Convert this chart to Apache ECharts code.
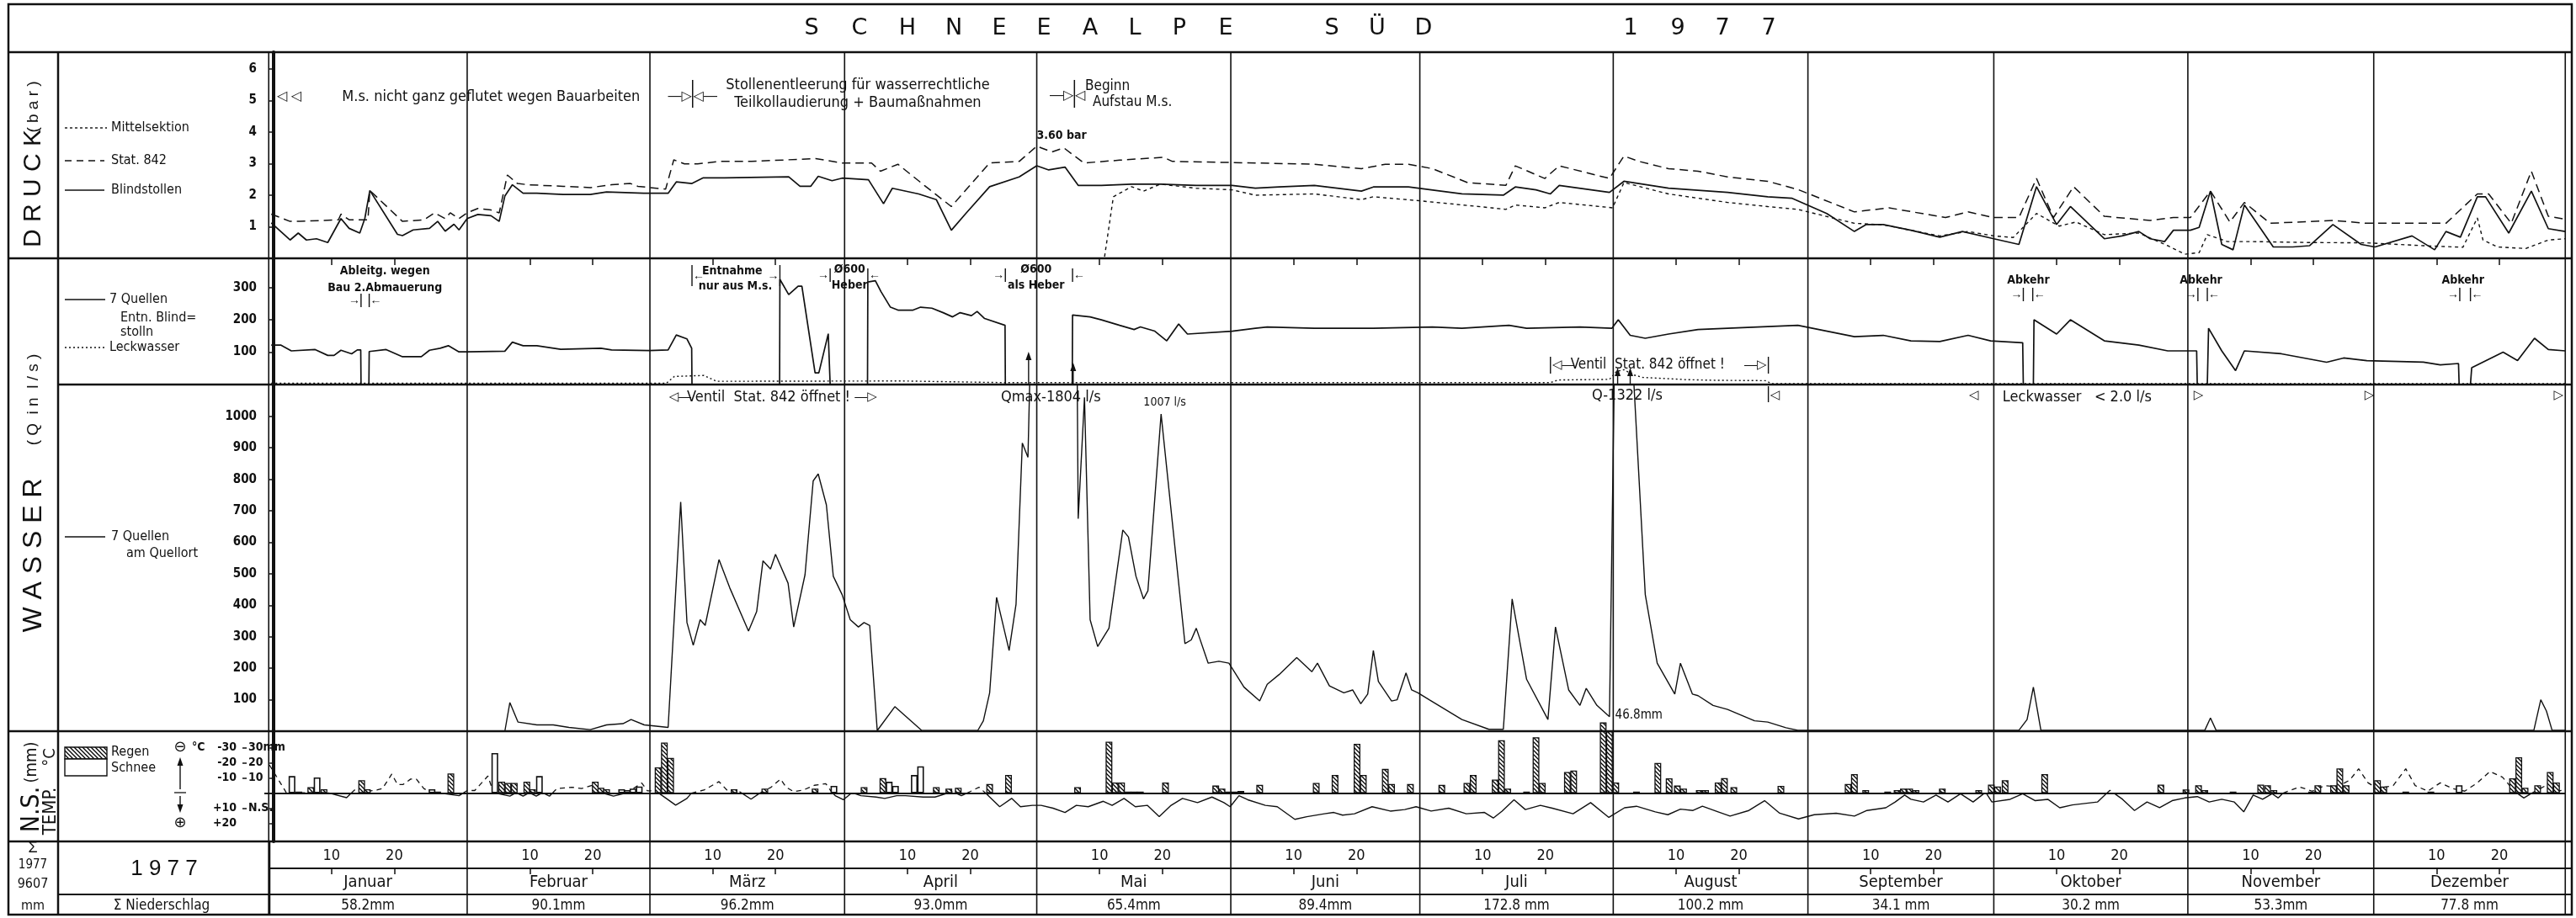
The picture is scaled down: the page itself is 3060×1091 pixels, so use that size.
<!DOCTYPE html>
<html>
<head>
<meta charset="utf-8">
<title>Schneealpe Süd 1977</title>
<script src="https://cdn.jsdelivr.net/npm/echarts@6/dist/echarts.min.js"></script>
<style>
  html, body { margin: 0; padding: 0; background: #fff; }
  #chart { width: 3060px; height: 1091px; }
</style>
</head>
<body>
<div id="chart"></div>
<script>
// === Daten (x = Tag im Jahr, 0 = Beginn 1. Jänner) ===

const monthNames = ['Januar', 'Februar', 'März', 'April', 'Mai', 'Juni', 'Juli', 'August', 'September', 'Oktober', 'November', 'Dezember'];
const monthTotals = ['58.2mm', '90.1mm', '96.2mm', '93.0mm', '65.4mm', '89.4mm', '172.8 mm', '100.2 mm', '34.1 mm', '30.2 mm', '53.3mm', '77.8 mm'];
// Monatsgrenzen so wie im Blatt gezeichnet
const monthEdges = [-0.8, 30.8, 59.9, 90.9, 121.5, 152.4, 182.5, 213.3, 244.3, 273.9, 304.8, 334.4, 364.9];

const druckTicks = [1, 2, 3, 4, 5, 6];
const quellenTicks = [100, 200, 300];
const wasserTicks = [100, 200, 300, 400, 500, 600, 700, 800, 900, 1000];
const nsTickValues = [30, 20, 10, -10, -20];
const tempTickLabels = ['-30', '-20', '-10', '+10', '+20'];
const mmTickValues = [30, 20, 10, -10];
const mmTickLabels = ['30mm', '20', '10', 'N.S.'];

// Druck (bar)
const druckBlind = [
  [-0.4,1.12],[2.6,0.58],[3.9,0.8],[5.2,0.58],[6.8,0.62],[8.6,0.5],[10.7,1.26],[12,0.95],[13.7,0.8],[14.5,1.26],[15.3,2.15],
  [19.7,0.76],[20.5,0.72],[22.2,0.9],[24.8,0.95],[26.1,1.17],[27.3,0.86],[28.7,1.08],[29.5,0.9],[30.8,1.26],[32.5,1.39],
  [34.6,1.35],[35.9,1.17],[36.8,1.97],[38,2.33],[39.7,2.06],[41.9,2.06],[46.1,2.02],[50.4,2.02],[53,2.1],[58.9,2.06],
  [62.8,2.06],[64.1,2.42],[66.6,2.37],[68.4,2.55],[71.8,2.55],[82,2.58],[83.8,2.28],[85.5,2.28],[86.7,2.6],[88.9,2.46],
  [90.5,2.54],[94.7,2.49],[97.1,1.73],[98.5,2.22],[102.7,2.04],[105.5,1.86],[107.9,0.89],[110.2,1.42],[114,2.27],
  [118.7,2.58],[121.5,2.93],[123.4,2.8],[126,2.89],[128.1,2.31],[131.8,2.31],[136.6,2.35],[141.2,2.35],[146.9,2.31],
  [152.6,2.31],[156.3,2.22],[160.1,2.26],[165.7,2.31],[173.2,2.13],[175.1,2.26],[180.7,2.26],[189.2,2.04],[195.8,2.0],
  [197.7,2.26],[201,2.17],[203.3,2.04],[204.7,2.31],[212.7,2.09],[215,2.44],[222.1,2.22],[231.5,2.09],[237.9,1.95],
  [241.8,1.9],[247.3,1.42],[251.7,0.85],[253.6,1.07],[256.3,1.07],[260.7,0.89],[265.3,0.67],[268.9,0.85],[273.9,0.62],
  [277.9,0.44],[280.7,2.27],[283.9,1.07],[286.1,1.64],[291.5,0.62],[294.3,0.71],[297,0.85],[298.8,0.62],[301.1,0.53],
  [302.5,0.89],[305.2,0.89],[306.6,0.98],[308.4,2.13],[310.2,0.44],[312,0.27],[313.8,1.69],[318.4,0.36],[321.5,0.36],
  [324.2,0.4],[327.9,1.07],[332.4,0.44],[334.6,0.36],[340.5,0.71],[344.1,0.27],[345.9,0.85],[348.2,0.67],[350.9,1.95],
  [352.2,1.95],[355.9,0.8],[359.5,2.13],[362.2,0.94],[364.9,0.85]
];
const druckStat = [
  [-0.4,1.4],[2.6,1.17],[4.2,1.17],[10.3,1.22],[10.7,1.4],[12,1.22],[15,1.22],[15.3,2.15],[20.5,1.17],[23.9,1.22],
  [25.6,1.44],[27.3,1.26],[28.1,1.44],[29.5,1.26],[30.8,1.44],[32.5,1.58],[34.6,1.53],[35.9,1.44],[37.2,2.64],[38.8,2.37],
  [40.5,2.33],[46.1,2.28],[50.4,2.24],[53.8,2.33],[56.8,2.37],[58,2.28],[62.4,2.19],[63.7,3.12],[65.4,2.99],[67.5,2.99],
  [70.9,3.07],[76.1,3.07],[86.3,3.16],[90.5,3.02],[95.2,3.02],[96.6,2.76],[99.4,2.98],[103.6,2.31],[107.9,1.64],[114,3.02],
  [118.7,3.07],[121.5,3.55],[123.9,3.37],[125.8,3.5],[129,3.02],[134.7,3.11],[141.7,3.2],[143.1,3.07],[156.3,3.02],
  [165.7,2.98],[173.2,2.84],[177,2.98],[180.7,2.98],[184.5,2.84],[190.1,2.4],[196.2,2.31],[197.7,2.93],[202.4,2.53],
  [204.7,2.93],[212.7,2.53],[215,3.24],[217.4,3.07],[222.1,2.84],[226.8,2.76],[231.5,2.58],[237.9,2.44],[242.7,2.18],
  [251.7,1.47],[257.2,1.6],[266.2,1.29],[269.8,1.47],[273.9,1.29],[277.9,1.29],[280.7,2.53],[283.4,1.29],[286.6,2.27],
  [291.5,1.33],[298.8,1.2],[302.5,1.29],[305.2,1.29],[308.4,2.13],[311.5,1.15],[313.8,1.77],[317.9,1.11],[327.9,1.2],
  [333.3,1.11],[345.9,1.11],[350.9,2.04],[352.7,2.04],[356.3,1.11],[359.5,2.76],[362.2,1.33],[364.9,1.24]
];
const druckMittel = [
  [132.3,0.05],[133.7,1.95],[136.6,2.27],[138.5,2.13],[141.2,2.35],[146.9,2.22],[152.6,2.17],[156.3,2.0],[165.7,2.04],
  [173.2,1.86],[175.1,1.95],[182.6,1.82],[193.9,1.6],[196.2,1.55],[197.7,1.69],[202.4,1.6],[204.7,1.77],[213.2,1.6],
  [215,2.4],[222.1,2.04],[231.5,1.77],[237.9,1.64],[242.7,1.55],[251.7,1.11],[256.3,1.06],[265.3,0.71],[269.8,0.85],
  [273.9,0.71],[277,0.66],[280.7,1.42],[284.3,1.02],[287,1.15],[291.5,0.75],[297,0.8],[301.6,0.4],[304.3,0.13],
  [306.6,0.18],[307.9,0.75],[311.1,0.53],[315.1,0.53],[324.2,0.5],[333.3,0.49],[342.3,0.4],[348.6,0.35],[350.9,1.28],
  [351.8,0.58],[354.1,0.36],[358.6,0.31],[362.2,0.58],[364.9,0.62]
];

// Q in l/s – 7 Quellen Entnahme Blindstollen, Leckwasser
const quellenEntn = [
  [-0.4,122],[1.1,122],[2.8,104],[6.6,108],[8.6,90],[9.6,90],[10.7,106],[12.4,95],[13.3,107],[13.85,107],[13.9,0],
  [15.15,0],[15.2,102],[17.9,108],[20.5,86],[23.5,86],[24.8,106],[26.5,112],[27.8,120],[29.5,101],[30.8,101],[36.8,103],
  [38,131],[39.7,120],[41.9,120],[45.7,109],[52.1,112],[53.8,107],[59.8,105],[62.8,107],[64.1,153],[65.8,141],[66.55,112],
  [66.6,0],[80.55,0],[80.6,325],[82,278],[83.5,304],[84.1,304],[86.2,36],[86.8,36],[88.3,157],[88.55,157],[88.6,0],
  [94.55,0],[94.6,317],[95.8,321],[96.7,287],[98.2,239],[99.4,230],[101.8,230],[103,239],[104.8,236],[106.6,222],
  [108.1,209],[109.3,222],[111.1,213],[112,226],[113.2,204],[116.45,183],[116.5,0],[127.15,0],[127.2,215],[130,209],
  [131.8,200],[134.7,183],[137,170],[138,178],[140.3,165],[142.2,135],[144.1,187],[145.5,156],[152.6,165],[156.3,174],
  [158.2,178],[165.7,174],[175.1,174],[184.5,178],[189.2,174],[196.7,183],[199.5,174],[208,178],[213.1,174],[214.1,200],
  [216,152],[218.4,143],[222.1,156],[226.8,170],[231.5,174],[242.7,183],[251.7,148],[256.3,152],[260.7,135],[265.3,133],
  [269.8,152],[273.4,135],[278.5,129],[278.6,0],[280.2,0],[280.3,200],[283.9,156],[286.1,200],[291.5,135],[297,122],
  [301.6,104],[306.2,104],[306.3,0],[307.9,0],[308.1,174],[310.2,104],[312.4,43],[313.8,104],[319.7,95],[326.9,69],
  [329.6,82],[333.3,74],[342.3,69],[345,61],[347.9,65],[348,0],[349.8,0],[350,52],[355,100],[357.3,74],[360,143],
  [362.2,108],[364.9,104]
];
const leckwasser = [
  [-0.4,4],[62.5,4],[63.8,25],[68.5,28],[70.5,10],[100,11],[116,6],[203.3,6],[204.5,14],[212.7,16],[213.8,40],[215,46],
  [216.5,30],[218,22],[225,15],[230,13],[237.5,12],[238.5,3],[364.9,3]
];

// 7 Quellen am Quellort
const quellort = [
  [-0.4,0],[36.8,0],[37.6,91],[38.9,29],[41.9,20],[44.5,20],[47,12],[50.4,5],[53,20],[55.6,24],[56.9,37],[59,20],[62.8,12],
  [64.8,728],[65.8,345],[66.8,273],[67.9,354],[68.7,336],[70.9,545],[72.6,456],[75.6,318],[76.9,380],[77.9,541],[79.1,515],
  [79.9,562],[81.9,470],[82.8,331],[84.6,497],[85.9,795],[86.7,817],[88,719],[89.1,492],[90.5,434],[91.8,354],[93.1,331],
  [94,345],[94.9,336],[96.1,2],[98.9,78],[103.2,2],[112.1,2],[113,33],[114,122],[115.1,425],[117.1,256],[118.2,403],
  [119.2,915],[120.1,870],[121.2,1804],[127.7,1804],[128.1,675],[129.1,1060],[130,354],[131.2,269],[133,327],[135.2,639],
  [136.1,617],[137.3,492],[138.5,420],[139.2,446],[141.3,1007],[145.1,278],[146.1,290],[146.9,327],[148.8,216],[150.5,222],
  [152.1,216],[154.5,140],[157,96],[158.2,149],[160.1,180],[162.9,234],[165.3,189],[166.2,216],[168.1,144],[170.4,122],
  [171.8,131],[173.1,87],[174.2,118],[175.1,256],[175.9,158],[178,96],[178.9,100],[180.3,185],[181.2,131],[182.2,122],
  [184,100],[189.2,37],[193.5,6],[195.8,6],[197.2,420],[199.5,165],[202.9,37],[204.1,331],[206.2,131],[208,82],[209,136],
  [210.7,82],[212.7,46],[213.6,1322],[216,1322],[218.4,434],[220.3,216],[223.1,118],[224,216],[225.9,118],[226.8,113],
  [229.2,82],[231.5,69],[235.8,33],[237.9,29],[240.8,11],[242.7,3],[277.9,3],[279.2,37],[280.2,140],[281.4,3],[307.5,3],
  [308.4,42],[309.3,3],[359.9,3],[361,100],[361.9,64],[362.8,3],[364.9,3]
];

// Niederschlag (mm): Regen und Schnee
const regen = [
  [5.9,4],[8,2.6],[14,8.5],[14.9,2.6],[28.2,13],
  [36.3,7.6],[37.3,6.7],[38.3,6.7],[40.3,7.6],[41.2,2.6],[51.2,7.6],[52.1,3.5],[53,2.6],
  [61.2,17],[62.2,33.5],[63.2,23.3],[73.3,2.6],[78.2,3],[86.2,3],
  [94,4],[97,10],[105.5,4],[107.5,3],[109,3.5],[114,6],[117,12],
  [128,4],[133,34],[134,7],[135,7],[136,1],[137,1],[138,1],[142,7],
  [150,5],[151,3],[152,1],[153,1],[154,1.5],[157,5.5],[166,6.7],[169,12],[172.5,32.6],[173.5,12],[177,16],[178,6],[181,6],
  [186,5.5],[190,6.7],[191,12],[194.5,9],[195.5,35],[196.5,3],[199.5,1],[201,37],[202,6.7],[206,14],[207,15],
  [211.7,46.8],[212.7,41],[213.7,7],
  [217,1],[220.4,20],[222.2,9.8],[223.5,5],[224.5,3],[227,2],[228,2],[230,7],[231,10],[232.5,4],[240,4.8],
  [250.7,6],[251.7,12.6],[253.5,2],[257,1],[258.5,2],[259.5,3],[260.5,3],[261.5,2],[265.7,3],[271.5,2],
  [273.5,5.6],[274.5,4.4],[275.7,8.5],[282,12.6],[300.5,5.6],
  [304.5,2.4],[306.5,5.2],[307.5,2],[312,1],[316.4,5.6],[317.5,5.2],[318.5,2],[324.5,1],[325.5,5.2],[328,5.2],[329,16.3],[330,5.2],
  [335,8.5],[336,4.4],[339.5,1],[343.5,1],[356.5,9.8],[357.5,23.7],[358.5,3.5],[360.5,5.2],[362.5,14],[363.5,7]
];
const schnee = [
  [2.9,11.3],[4,1],[6.9,10.4],[25.2,2.6],[26.1,1],
  [35.2,26.5],[42.3,11.3],[55.4,2.6],[56.3,2],[57.2,3],[58.2,4.4],
  [89.2,4.8],[98,7.5],[99,4.8],[102,12],[103,17.8],[348,5.2]
];

// Lufttemperatur °C
const temperatur = [
  [-0.7,-18.7],[2,-0.3],[8.6,-0.3],[11.6,3],[13.1,-3],[14.6,-1],[16.4,-2],[17.3,-3],[18.8,-12.6],[19.7,-5.7],[20.6,-5.7],
  [21.8,-9.3],[22.7,-9.3],[23.9,-3],[24.8,-1],[29.5,1.7],[30.8,-1.7],
  [32,-1.7],[34.1,-11.3],[35,-0.3],[37.6,2],[38.6,-0.3],[39.7,2],[40.7,-0.3],[41.8,2],[42.8,-0.3],[43.9,2],[45.1,-3],
  [47.5,-3.9],[49,-3],[50.8,-5.2],[52.6,0.7],[54.1,2],[56.3,-0.3],[58.6,-6.7],[59.5,-1.5],
  [60.8,-1.5],[62.5,3.5],[64,8],[65.8,3.5],[66.7,-1],[68.5,-2],[70.9,-7.6],[72.4,-1],[73.8,-2],[76,4],[77.5,-0.3],[79.2,-3.9],
  [80.7,-9.3],[81.6,-3.9],[82.8,-1],[84.3,-2],[86.1,-5.2],[87.9,-6.3],[88.8,-1],[89.4,1.7],[90.7,4.4],
  [92.1,-0.3],[93.5,1.7],[95.9,2.6],[97.3,3.5],[99.2,1.7],[100.6,1.7],[103.4,2.6],[105.3,2.6],[108.1,-1],[109.5,1.7],
  [110.9,-1],[112.3,-3.9],[113.8,1.7],[115.6,9],[117.5,3.5],[118.9,9],[120.8,8.1],
  [122.2,8.1],[124.1,10],[126,12.8],[127.8,8.1],[129.7,9],[132.1,5.4],[133.5,8.1],[135.4,3.5],[137.2,9],[139.1,8.1],
  [141,15.6],[142.9,8.1],[144.7,3.5],[147.1,6.3],[149.4,2.6],[151.3,6.3],[152.3,9],
  [153.7,1.7],[155.1,4.4],[157.9,8.1],[159.8,9],[162.6,17.4],[164.5,15.6],[167.3,13.7],[168.8,12.8],[170.2,14.6],
  [172.1,13.7],[174.9,9],[177.8,11.9],[180.1,10.9],
  [181.9,9],[184.3,11.9],[187.1,10],[189.9,13.7],[192.8,12.8],[194.2,16.5],[195.6,11.9],[197.5,4.4],[199.3,10.9],
  [201.7,8.1],[203.6,10],[206.9,13.7],[209.7,6.3],[212.6,16.1],
  [215.1,9.7],[217,8.7],[220,12.4],[222,14.3],[224,10.6],[226,11.5],[227.5,8.7],[230,12.4],[231.9,15.2],[234.9,11.5],
  [237.4,5],[239.8,13.3],[242.8,17.1],
  [245.3,14.3],[248.8,13.3],[251.7,15.2],[253.7,11.5],[256.7,9.7],[258.2,5.9],[259.7,1.3],[260.7,4.1],[262.7,5.9],
  [264.7,1.3],[266.6,5.9],[268.6,0.4],[270.6,5.9],[272.6,-0.6],
  [273.6,5.9],[276.5,4.1],[278.5,0.4],[280.5,5],[282.5,4.1],[284.4,9.7],[286.4,7.8],[290.4,5.9],[292.4,-1.9],[294.4,4.1],
  [296.3,11.5],[298.3,5.9],[300.3,9.7],[302.3,5],
  [304.3,3.2],[306.3,2.3],[308.2,5.9],[310.2,4.1],[312.2,5.9],[313.7,12.4],[315.2,1.3],[316.7,4.1],[318.2,0.4],[319.2,3.2],
  [320.2,-1],[322.6,-4.1],[324.6,-1.3],[326.6,-5],[328.6,-4.1],[330.6,-8.7],[332,-16.1],[333.5,-6.8],
  [335,-3.1],[337.5,-5],[339.5,-16.1],[341,-5],[343,-1.3],[345,-6.8],[346.9,-3.1],[348.9,-1.3],[350.9,-6.8],[352.9,-14.3],
  [354.9,-10.6],[356.8,-1.3],[358.3,3.2],[359.8,-0.6],[361.8,-5],[363.8,-1.3],[364.8,-2.2]
];

// === Hilfen ===
const SANS = "'Liberation Sans', 'DejaVu Sans', sans-serif";
const NARROW = "'Liberation Sans Narrow', 'DejaVu Sans Condensed', 'Liberation Sans', sans-serif";
const INK = '#111';

// Tick-Positionen 10. und 20. jedes Monats
const dayTicks = [];
for (let m = 0; m < 12; m++) {
  dayTicks.push(monthEdges[m] + 10, monthEdges[m] + 20);
}

// Temperatur: kalt (über der Nulllinie, strichliert) / warm (darunter, voll)
function splitTemp(arr) {
  const cold = [], warm = [];
  const brk = a => { if (a.length && a[a.length - 1][1] !== '-') a.push([a[a.length - 1][0], '-']); };
  for (let i = 0; i < arr.length; i++) {
    const d = arr[i][0], v = -arr[i][1];
    if (i > 0) {
      const pd = arr[i - 1][0], pv = -arr[i - 1][1];
      if ((pv > 0 && v < 0) || (pv < 0 && v > 0)) {
        const dc = pd + (d - pd) * pv / (pv - v);
        cold.push([dc, 0]); warm.push([dc, 0]);
      }
    }
    if (v >= 0) cold.push([d, v]);
    if (v <= 0) warm.push([d, v]);
    if (v > 0) brk(warm);
    if (v < 0) brk(cold);
  }
  return { cold, warm };
}
const temp = splitTemp(temperatur);

function hatchCanvas() {
  const c = document.createElement('canvas');
  c.width = 5; c.height = 5;
  const g = c.getContext('2d');
  g.fillStyle = '#fff'; g.fillRect(0, 0, 5, 5);
  g.strokeStyle = '#000'; g.lineWidth = 1.3;
  g.beginPath();
  g.moveTo(-1, -1); g.lineTo(6, 6);
  g.moveTo(-1, 4); g.lineTo(1, 6);
  g.moveTo(4, -1); g.lineTo(6, 1);
  g.stroke();
  return c;
}
const hatch = { image: hatchCanvas(), repeat: 'repeat' };

// === Diagramm ===
const chart = echarts.init(document.getElementById('chart'), null, { renderer: 'canvas' });

const grids = [
  { top: 62, height: 245 },   // Druck
  { top: 307, height: 150 },  // Quellen
  { top: 457, height: 412 },  // Wasser
  { top: 869, height: 131 },  // N.S. / Temp
  { top: 1000, height: 32 }   // Tageszeile
].map(g => ({ left: 314, right: 12, top: g.top, height: g.height, outerBoundsMode: 'none' }));

const hiddenX = i => ({ type: 'value', gridIndex: i, min: -1.5, max: 365, show: false });

function valueY(i, max, ticks) {
  return {
    type: 'value', gridIndex: i, min: 0, max: max, position: 'left',
    axisLine: { show: true, lineStyle: { color: INK, width: 4 } },
    axisTick: { show: true, customValues: ticks, length: 6, lineStyle: { color: INK, width: 1.5 } },
    axisLabel: { customValues: ticks, color: INK, fontSize: 15, fontWeight: 'bold', fontFamily: NARROW, margin: 9,
      formatter: v => String(v) },
    splitLine: { show: false }
  };
}

const option = {
  backgroundColor: '#fff',
  animation: false,
  textStyle: { fontFamily: SANS },
  grid: grids,
  xAxis: [
    {
      type: 'value', gridIndex: 0, min: -1.5, max: 365, position: 'top',
      axisLine: { show: false }, splitLine: { show: false },
      axisTick: { show: true, inside: true, length: 8, customValues: dayTicks, lineStyle: { color: INK, width: 1.5 } },
      axisLabel: { show: false }
    },
    hiddenX(1), hiddenX(2), hiddenX(3),
    {
      type: 'value', gridIndex: 4, min: -1.5, max: 365, position: 'top',
      axisLine: { show: false }, splitLine: { show: false },
      axisTick: { show: true, inside: true, length: 7, customValues: dayTicks, lineStyle: { color: INK, width: 1.5 } },
      axisLabel: {
        inside: true, margin: 8, customValues: dayTicks, color: INK, fontSize: 18, fontFamily: NARROW,
        verticalAlign: 'top',
        formatter: v => { const i = dayTicks.findIndex(t => Math.abs(t - v) < 1e-6); return i % 2 === 0 ? '10' : '20'; }
      }
    }
  ],
  yAxis: [
    valueY(0, 6.53, druckTicks),
    valueY(1, 390, quellenTicks),
    valueY(2, 1101, wasserTicks),
    {
      type: 'value', gridIndex: 3, min: -32, max: 41, position: 'left', offset: 26,
      axisLine: { show: true, lineStyle: { color: INK, width: 4 } },
      axisTick: { show: true, customValues: nsTickValues, length: 5, lineStyle: { color: INK, width: 1.5 } },
      axisLabel: {
        customValues: nsTickValues, color: INK, fontSize: 14, fontWeight: 'bold', fontFamily: NARROW, margin: 7,
        formatter: v => tempTickLabels[nsTickValues.indexOf(v)]
      },
      splitLine: { show: false }
    },
    {
      type: 'value', gridIndex: 3, min: -32, max: 41, position: 'left', offset: 26,
      axisLine: { show: false },
      axisTick: { show: true, inside: true, customValues: mmTickValues, length: 5, lineStyle: { color: INK, width: 1.5 } },
      axisLabel: {
        inside: true, customValues: mmTickValues, color: INK, fontSize: 14, fontWeight: 'bold', fontFamily: NARROW, margin: 7,
        formatter: v => mmTickLabels[mmTickValues.indexOf(v)]
      },
      splitLine: { show: false }
    },
    { type: 'value', gridIndex: 4, min: 0, max: 1, show: false }
  ],
  series: [
    { name: 'Blindstollen', type: 'line', xAxisIndex: 0, yAxisIndex: 0, data: druckBlind, symbol: 'none',
      lineStyle: { color: INK, width: 1.7 } },
    { name: 'Stat. 842', type: 'line', xAxisIndex: 0, yAxisIndex: 0, data: druckStat, symbol: 'none',
      lineStyle: { color: INK, width: 1.5, type: [10, 6] } },
    { name: 'Mittelsektion', type: 'line', xAxisIndex: 0, yAxisIndex: 0, data: druckMittel, symbol: 'none',
      lineStyle: { color: INK, width: 1.4, type: [4, 4] } },
    { name: '7 Quellen Entn. Blindstolln', type: 'line', xAxisIndex: 1, yAxisIndex: 1, data: quellenEntn, symbol: 'none',
      lineStyle: { color: INK, width: 1.7 } },
    { name: 'Leckwasser', type: 'line', xAxisIndex: 1, yAxisIndex: 1, data: leckwasser, symbol: 'none',
      lineStyle: { color: INK, width: 1.4, type: [2, 3] } },
    { name: '7 Quellen am Quellort', type: 'line', xAxisIndex: 2, yAxisIndex: 2, data: quellort, symbol: 'none',
      lineStyle: { color: INK, width: 1.4 } },
    { name: 'Temp kalt', type: 'line', xAxisIndex: 3, yAxisIndex: 3, data: temp.cold, symbol: 'none',
      lineStyle: { color: INK, width: 1.3, type: [6, 5] } },
    { name: 'Temp warm', type: 'line', xAxisIndex: 3, yAxisIndex: 3, data: temp.warm, symbol: 'none',
      lineStyle: { color: INK, width: 1.4 },
      markLine: { silent: true, symbol: 'none', label: { show: false },
        lineStyle: { color: INK, width: 2, type: 'solid' }, data: [{ yAxis: 0 }] } },
    { name: 'Regen', type: 'bar', xAxisIndex: 3, yAxisIndex: 3, data: regen, barWidth: 8, barGap: '-100%', clip: false,
      itemStyle: { color: hatch, borderColor: INK, borderWidth: 1.3 }, z: 5 },
    { name: 'Schnee', type: 'bar', xAxisIndex: 3, yAxisIndex: 3, data: schnee, barWidth: 8, barGap: '-100%', clip: false,
      itemStyle: { color: '#fff', borderColor: INK, borderWidth: 1.6 }, z: 5 },
    { type: 'line', xAxisIndex: 4, yAxisIndex: 5, data: [] }
  ]
};

chart.setOption(option);

// === Rahmen, Beschriftung, Hinweise ===
function buildGraphics() {
  const px = d => chart.convertToPixel({ xAxisIndex: 0 }, d);
  const g = [];
  const line = (x1, y1, x2, y2, w, dash) => g.push({
    type: 'line', silent: true, z: 10,
    shape: { x1, y1, x2, y2 }, style: { stroke: INK, lineWidth: w || 2, lineDash: dash || null }
  });
  const text = (x, y, t, o) => {
    o = o || {};
    g.push({
      type: 'text', silent: true, z: 11, x, y, rotation: o.rot || 0,
      style: {
        text: t, fill: INK,
        font: `${o.weight || 'normal'} ${o.size || 16}px ${o.family || SANS}`,
        textAlign: o.align || 'center', align: o.align || 'center',
        textVerticalAlign: 'middle', verticalAlign: 'middle'
      }
    });
  };
  const upArrow = (x, yTop, yBottom) => {
    line(x, yTop + 6, x, yBottom, 1.4);
    g.push({ type: 'polygon', silent: true, z: 11,
      shape: { points: [[x, yTop], [x - 3.5, yTop + 10], [x + 3.5, yTop + 10]] }, style: { fill: INK } });
  };

  // Außenrahmen und Zeilen
  g.push({ type: 'rect', silent: true, z: 10, shape: { x: 10, y: 5, width: 3045, height: 1082 },
    style: { fill: null, stroke: INK, lineWidth: 2.5 } });
  line(10, 62, 3055, 62, 2.5);
  line(10, 307, 3055, 307, 2.5);
  line(69, 457, 3055, 457, 2.5);
  line(10, 869, 3055, 869, 2.5);
  line(10, 1000, 3055, 1000, 2.5);
  line(320, 1032, 3055, 1032, 2);
  line(69, 1063, 3055, 1063, 2);
  line(69, 62, 69, 1087, 2.5);
  line(320, 1000, 320, 1087, 2.5);

  // Monatslinien
  monthEdges.forEach(e => line(px(e), 62, px(e), 1087, 1.6));

  // Titel
  const titleChars = [['S', 964], ['C', 1021], ['H', 1078], ['N', 1133], ['E', 1187], ['E', 1240], ['A', 1295],
    ['L', 1348], ['P', 1401], ['E', 1456], ['S', 1582], ['Ü', 1636], ['D', 1691], ['1', 1937], ['9', 1993], ['7', 2046], ['7', 2101]];
  titleChars.forEach(([c, x]) => text(x, 34, c, { size: 27, family: "'DejaVu Sans', sans-serif" }));

  // Senkrechte Beschriftung links
  const rot = Math.PI / 2;
  text(40, 224, 'D R U C K', { size: 30, rot });
  text(40, 127, '( b a r )', { size: 19, rot });
  text(40, 660, 'W A S S E R', { size: 32, rot });
  text(40, 475, '( Q  i n  l / s )', { size: 19, rot });
  text(38, 962, 'N.S.', { size: 30, rot, family: NARROW });
  text(38, 906, '(mm)', { size: 20, rot, family: NARROW });
  text(60, 964, 'TEMP.', { size: 22, rot, family: NARROW });
  text(60, 900, '°C', { size: 20, rot, family: NARROW });

  // Legenden
  line(77, 152, 127, 152, 1.4, [3, 3]);
  text(132, 152, 'Mittelsektion', { align: 'left', size: 16, family: NARROW });
  line(77, 191, 124, 191, 1.5, [8, 6]);
  text(132, 191, 'Stat. 842', { align: 'left', size: 16, family: NARROW });
  line(77, 226, 124, 226, 1.7);
  text(132, 226, 'Blindstollen', { align: 'left', size: 16, family: NARROW });

  line(77, 356, 125, 356, 1.7);
  text(130, 356, '7 Quellen', { align: 'left', size: 16, family: NARROW });
  text(143, 378, 'Entn. Blind=', { align: 'left', size: 16, family: NARROW });
  text(143, 395, 'stolln', { align: 'left', size: 16, family: NARROW });
  line(77, 413, 125, 413, 1.4, [2, 3]);
  text(130, 413, 'Leckwasser', { align: 'left', size: 16, family: NARROW });

  line(77, 638, 125, 638, 1.4);
  text(132, 638, '7 Quellen', { align: 'left', size: 16, family: NARROW });
  text(150, 658, 'am Quellort', { align: 'left', size: 16, family: NARROW });

  g.push({ type: 'rect', silent: true, z: 10, shape: { x: 77, y: 888, width: 50, height: 14 },
    style: { fill: hatch, stroke: INK, lineWidth: 1.4 } });
  g.push({ type: 'rect', silent: true, z: 10, shape: { x: 77, y: 902, width: 50, height: 20 },
    style: { fill: '#fff', stroke: INK, lineWidth: 1.4 } });
  text(132, 894, 'Regen', { align: 'left', size: 16, family: NARROW });
  text(132, 913, 'Schnee', { align: 'left', size: 16, family: NARROW });
  text(214, 888, '⊖', { size: 18 });
  text(228, 888, '°C', { align: 'left', size: 14, weight: 'bold', family: NARROW });
  text(214, 978, '⊕', { size: 18 });
  upArrow(214, 900, 938);
  line(207, 942, 221, 942, 1.3);
  line(214, 946, 214, 958, 1.4);
  g.push({ type: 'polygon', silent: true, z: 11,
    shape: { points: [[214, 966], [210.5, 956], [217.5, 956]] }, style: { fill: INK } });

  // Tabelle links unten
  text(39, 1008, 'Σ', { size: 18 });
  text(39, 1028, '1977', { size: 15, family: NARROW });
  text(39, 1051, '9607', { size: 16, family: NARROW });
  text(39, 1077, 'mm', { size: 16, family: NARROW });
  text(195, 1033, '1 9 7 7', { size: 26 });
  text(192, 1077, 'Σ Niederschlag', { size: 17, family: NARROW });

  // Monatsnamen und Summen
  for (let m = 0; m < 12; m++) {
    const cx = (px(monthEdges[m]) + px(monthEdges[m + 1])) / 2;
    text(cx, 1049, monthNames[m], { size: 20, family: NARROW });
    text(cx, 1077, monthTotals[m], { size: 17, family: NARROW });
  }

  // Hinweise Druck
  const A = { size: 18, family: NARROW };
  text(px(0) + 4, 115, '◁ ◁', { align: 'left', size: 16 });
  text(px(34.6), 115, 'M.s. nicht ganz geflutet wegen Bauarbeiten', A);
  line(px(66.7), 95, px(66.7), 128, 1.5);
  text(px(66.7) - 1, 115, '—▷', { align: 'right', size: 16 });
  text(px(66.7) + 1, 115, '◁—', { align: 'left', size: 16 });
  text(px(93), 101, 'Stollenentleerung für wasserrechtliche', A);
  text(px(93), 122, 'Teilkollaudierung + Baumaßnahmen', A);
  line(px(127.5), 95, px(127.5), 128, 1.5);
  text(px(127.5) - 1, 114, '—▷', { align: 'right', size: 16 });
  text(px(127.5) + 1, 114, '◁', { align: 'left', size: 16 });
  text(px(129.2), 103, 'Beginn', { align: 'left', size: 17, family: NARROW });
  text(px(130.4), 122, 'Aufstau M.s.', { align: 'left', size: 17, family: NARROW });
  text(px(121.5), 161, '3.60 bar', { align: 'left', size: 14, weight: 'bold', family: NARROW });

  // Hinweise Quellen
  const B = { size: 14, weight: 'bold', family: NARROW };
  text(px(17.7), 322, 'Ableitg. wegen', B);
  text(px(17.7), 342, 'Bau 2.Abmauerung', B);
  const bracketOut = (d1, d2, y) => {
    line(px(d1), y - 8, px(d1), y + 8, 1.4); line(px(d2), y - 8, px(d2), y + 8, 1.4);
    text(px(d1) - 1, y, '→', { align: 'right', size: 14, weight: 'bold' });
    text(px(d2) + 1, y, '←', { align: 'left', size: 14, weight: 'bold' });
  };
  bracketOut(13.9, 15.2, 357);
  line(px(66.6), 315, px(66.6), 340, 1.4); line(px(80.6), 315, px(80.6), 340, 1.4);
  text(px(66.6) + 1, 328, '←', { align: 'left', size: 14, weight: 'bold' });
  text(px(80.6) - 1, 328, '→', { align: 'right', size: 14, weight: 'bold' });
  text(px(73), 322, 'Entnahme', B);
  text(px(73.5), 340, 'nur aus M.s.', B);
  bracketOut(88.6, 94.6, 327);
  text(px(91.7), 320, 'Ø600', B);
  text(px(91.7), 339, 'Heber', B);
  bracketOut(116.5, 127.2, 327);
  text(px(121.4), 320, 'Ø600', B);
  text(px(121.4), 339, 'als Heber', B);
  [[279.4, 278.6, 280.1], [306.9, 306.4, 307.9], [348.6, 348.1, 349.8]].forEach(([c, d1, d2]) => {
    text(px(c), 333, 'Abkehr', B);
    bracketOut(d1, d2, 350);
  });
  upArrow(px(120.2), 418, 457);
  upArrow(px(127.3), 431, 457);
  upArrow(px(214), 437, 457);
  upArrow(px(216), 437, 457);
  line(px(203.3), 424, px(203.3), 444, 1.4);
  line(px(238), 424, px(238), 444, 1.4);
  text(px(203.3) + 2, 434, '◁—', { align: 'left', size: 15 });
  text(px(206.5), 434, 'Ventil  Stat. 842 öffnet !', { align: 'left', size: 17, family: NARROW });
  text(px(238) - 2, 434, '—▷', { align: 'right', size: 15 });

  // Hinweise Wasser
  text(px(62.9), 472, '◁—', { align: 'left', size: 15 });
  text(px(65.8), 472, 'Ventil  Stat. 842 öffnet !', { align: 'left', size: 18, family: NARROW });
  text(px(92.5), 472, '—▷', { align: 'left', size: 15 });
  text(px(115.8), 472, 'Qmax-1804 l/s', { align: 'left', size: 18, family: NARROW });
  text(px(138.5), 478, '1007 l/s', { align: 'left', size: 14, family: NARROW });
  text(px(209.9), 470, 'Q-1322 l/s', { align: 'left', size: 18, family: NARROW });
  line(px(238), 459, px(238), 478, 1.4);
  text(px(238) + 2, 470, '◁', { align: 'left', size: 15 });
  text(px(270.7), 470, '◁', { size: 15 });
  text(px(275.3), 472, 'Leckwasser   < 2.0 l/s', { align: 'left', size: 18, family: NARROW });
  text(px(306.5), 470, '▷', { size: 15 });
  text(px(333.7), 470, '▷', { size: 15 });
  text(px(364.6), 470, '▷', { align: 'right', size: 15 });
  text(px(213.6), 850, '46.8mm', { align: 'left', size: 15, family: NARROW });

  chart.setOption({ graphic: { elements: g } });
}

buildGraphics();
</script>
</body>
</html>
